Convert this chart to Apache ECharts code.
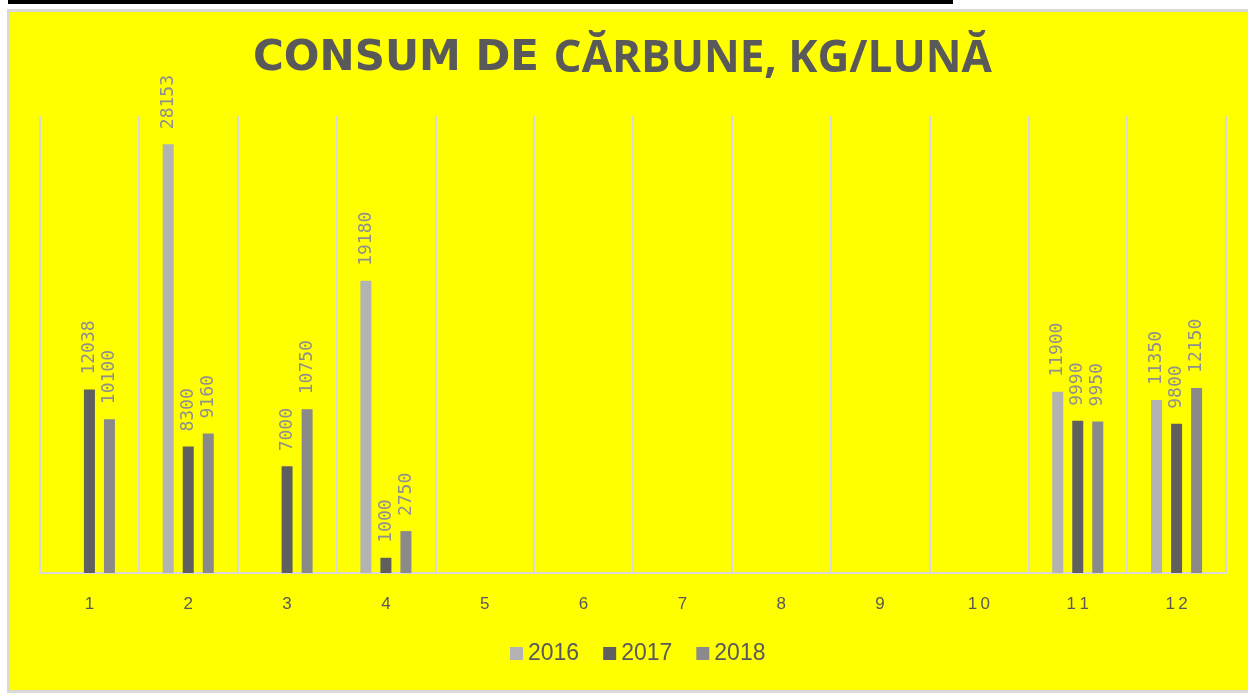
<!DOCTYPE html>
<html>
<head>
<meta charset="utf-8">
<script src="https://cdn.jsdelivr.net/npm/echarts@6/dist/echarts.min.js"></script>
<style>
html,body{margin:0;padding:0;background:#fff;}
#c{width:1248px;height:693px;}
</style>
</head>
<body>
<div id="c"></div>
<script>
const categories = ['1','2','3','4','5','6','7','8','9','10','11','12'];
const seriesNames = ['2016','2017','2018'];
const values2016 = [null, 28153, null, 19180, null, null, null, null, null, null, 11900, 11350];
const values2017 = [12038, 8300, 7000, 1000, null, null, null, null, null, null, 9990, 9800];
const values2018 = [10100, 9160, 10750, 2750, null, null, null, null, null, null, 9950, 12150];
const titlePart1 = 'CONSUM DE ';
const titlePart2 = 'CĂRBUNE, KG/LUNĂ';

const colors = ['#b3b3b3', '#5f5f5f', '#8a8a8a'];
const chart = echarts.init(document.getElementById('c'), null, {renderer: 'canvas'});

function mk(name, data, color) {
  return {
    name: name,
    type: 'bar',
    data: data,
    barWidth: 11,
    barGap: '82%',
    itemStyle: {color: color},
    label: {
      show: true,
      position: 'top',
      distance: 15,
      rotate: 90,
      align: 'left',
      verticalAlign: 'middle',
      color: '#8f8f8f',
      fontFamily: 'DejaVu Sans Mono',
      fontSize: 18
    }
  };
}

chart.setOption({
  backgroundColor: '#ffffff',
  animation: false,
  color: colors,
  graphic: [
    {type: 'rect', z: -10, shape: {x: 8.5, y: 10.5, width: 1260, height: 681}, style: {fill: '#ffff00', stroke: '#d9d9d9', lineWidth: 3}},
    {type: 'rect', z: -10, shape: {x: 8, y: 0, width: 945, height: 4}, style: {fill: '#000000'}}
  ],
  title: {
    text: '{a|' + titlePart1 + '}{b|' + titlePart2 + '}',
    left: 248,
    top: 32,
    textStyle: {
      rich: {
        a: {fontFamily: 'DejaVu Sans', fontWeight: 'bold', fontSize: 42, color: '#595959'},
        b: {fontFamily: 'Open Sans', fontWeight: 'bold', fontSize: 44, color: '#595959'}
      }
    }
  },
  legend: {
    data: seriesNames,
    bottom: 23,
    left: 505,
    icon: 'rect',
    itemWidth: 13,
    itemHeight: 13,
    itemGap: 24,
    textStyle: {color: '#595959', fontSize: 23, fontFamily: 'Liberation Sans'}
  },
  grid: {left: 40, right: 22, top: 116, bottom: 120, containLabel: false},
  xAxis: {
    type: 'category',
    data: categories,
    boundaryGap: true,
    axisLine: {lineStyle: {color: '#d9d9d9', width: 2}},
    axisTick: {show: false},
    splitLine: {show: true, lineStyle: {color: '#d9d9d9', width: 2}},
    axisLabel: {color: '#595959', fontSize: 17, fontFamily: 'Liberation Sans', margin: 23,
      formatter: v => v.split('').join('\u2009')}
  },
  yAxis: {
    type: 'value',
    min: 0,
    max: 30000,
    show: false,
    splitLine: {show: false}
  },
  series: [
    mk(seriesNames[0], values2016, colors[0]),
    mk(seriesNames[1], values2017, colors[1]),
    mk(seriesNames[2], values2018, colors[2])
  ]
});
</script>
</body>
</html>
